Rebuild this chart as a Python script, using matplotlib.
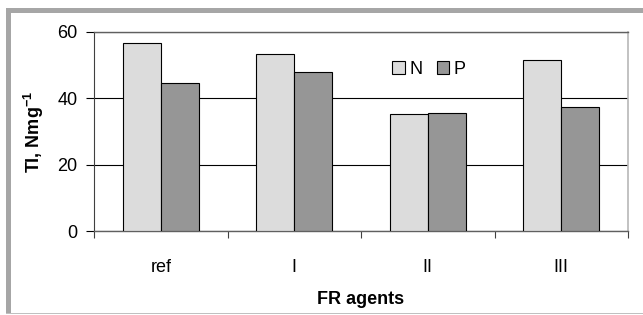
import matplotlib
matplotlib.use("Agg")
import matplotlib.pyplot as plt
import numpy as np
from matplotlib.patches import Rectangle

categories = ["ref", "I", "II", "III"]
series_names = ["N", "P"]
values_N = [56.8, 53.5, 35.4, 51.5]
values_P = [44.7, 47.9, 35.7, 37.4]
yticks = [0, 20, 40, 60]

plt.rcParams['font.family'] = ['Liberation Sans', 'DejaVu Sans']
plt.rcParams['mathtext.fontset'] = 'custom'
plt.rcParams['mathtext.rm'] = 'Liberation Sans:bold'
plt.rcParams['mathtext.bf'] = 'Liberation Sans:bold'
plt.rcParams['mathtext.default'] = 'bf'

W, H = 643, 315
fig = plt.figure(figsize=(W / 100, H / 100), dpi=100)

frame = "#a6a6a6"
# outer gray frame: top band, left band, thin bottom line
fig.patches.append(Rectangle((6 / W, 1 - 13 / H), (W - 6) / W, 5 / H, transform=fig.transFigure,
                             facecolor=frame, edgecolor="none"))
fig.patches.append(Rectangle((6 / W, 1 - 314 / H), 5 / W, (314 - 8) / H, transform=fig.transFigure,
                             facecolor=frame, edgecolor="none"))
fig.patches.append(Rectangle((6 / W, 1 - 314 / H), (W - 6) / W, 1.5 / H, transform=fig.transFigure,
                             facecolor="#c0c0c0", edgecolor="none"))

left, right, top, bottom = 94, 628, 32, 231
ax = fig.add_axes([left / W, 1 - bottom / H, (right - left) / W, (bottom - top) / H])

x = np.arange(len(categories))
bw = 0.285
ax.bar(x - bw / 2, values_N, bw, color="#dcdcdc", edgecolor="black", linewidth=0.8, label=series_names[0], zorder=3)
ax.bar(x + bw / 2, values_P, bw, color="#969696", edgecolor="black", linewidth=0.8, label=series_names[1], zorder=3)

fs = 13
ax.set_xlim(-0.5, len(categories) - 0.5)
ax.set_ylim(0, 60)
ax.set_yticks(yticks)
ax.set_yticklabels([str(t) for t in yticks], fontsize=fs)
ax.yaxis.grid(True, color="black", linewidth=0.8, zorder=0)
ax.set_axisbelow(True)

ax.set_xticks(x)
ax.set_xticklabels(categories, fontsize=fs)
ax.tick_params(axis="x", which="major", length=0, pad=20)
ax.set_xticks(np.arange(-0.5, len(categories), 1.0), minor=True)
ax.tick_params(axis="x", which="minor", length=5, width=0.8, direction="out", color="#404040")
ax.tick_params(axis="y", length=6, width=0.8, direction="out", pad=6)

ax.spines["left"].set_color("#404040")
ax.spines["left"].set_linewidth(0.8)
ax.spines["bottom"].set_color("#606060")
ax.spines["bottom"].set_linewidth(1.0)
ax.spines["top"].set_color("#606060")
ax.spines["top"].set_linewidth(1.0)
ax.spines["right"].set_color("#b8b8b8")
ax.spines["right"].set_linewidth(1.2)

ax.set_ylabel("TI, Nmg$^{-1}$", fontsize=fs, fontweight="bold", labelpad=8)
ax.set_xlabel("FR agents", fontsize=fs, fontweight="bold", labelpad=11)

leg = ax.legend(loc="center left", bbox_to_anchor=(298 / 534, 1 - 37 / 199), ncol=2, frameon=False,
                fontsize=fs, handlelength=0.7, handleheight=0.7, handletextpad=0.25,
                columnspacing=0.8, borderaxespad=0, borderpad=0)

fig.savefig("out.png", dpi=100)
